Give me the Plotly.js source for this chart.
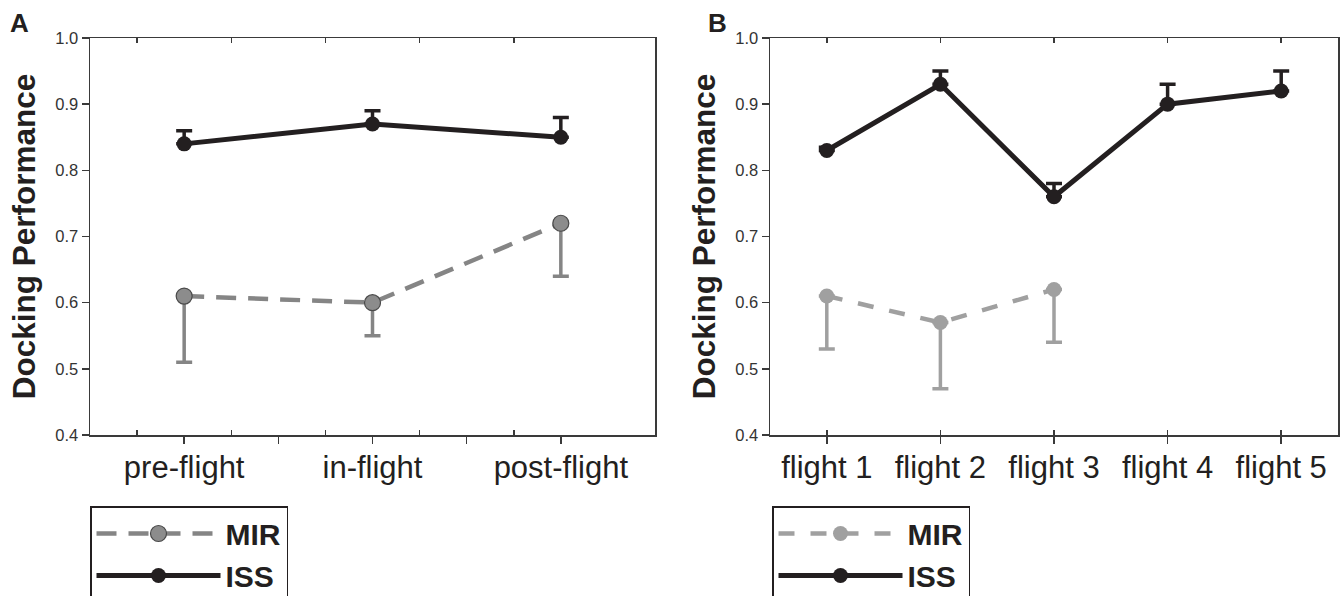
<!DOCTYPE html>
<html>
<head>
<meta charset="utf-8">
<script src="https://cdn.plot.ly/plotly-3.0.1.min.js"></script>
<style>html,body{margin:0;padding:0;background:#fff;}#chart{width:1342px;height:596px;}</style>
</head>
<body>
<div id="chart"></div>
<script>
// Panel A data
const phases = ['pre-flight', 'in-flight', 'post-flight'];
const mirA = [0.61, 0.60, 0.72];
const mirAErrMinus = [0.10, 0.05, 0.08];
const issA = [0.84, 0.87, 0.85];
const issAErrPlus = [0.02, 0.02, 0.03];

// Panel B data
const flights = ['flight 1', 'flight 2', 'flight 3', 'flight 4', 'flight 5'];
const mirFlights = ['flight 1', 'flight 2', 'flight 3'];
const mirB = [0.61, 0.57, 0.62];
const mirBErrMinus = [0.08, 0.10, 0.08];
const issB = [0.83, 0.93, 0.76, 0.90, 0.92];
const issBErrPlus = [0.005, 0.02, 0.02, 0.03, 0.03];

const yTicks = [0.4, 0.5, 0.6, 0.7, 0.8, 0.9, 1.0];

const FONT = 'Liberation Sans, Arial, sans-serif';
const ISS_COLOR = '#231f20';
const MIR_A = '#858585';
const MIR_B = '#a0a0a0';
const AX = '#3a3a3a';

const zeros = n => new Array(n).fill(0);
const pos = (cats, list) => list.map(c => cats.indexOf(c));

// tick helpers (positions in category units)
function steps(from, to, step) {
  const out = [];
  for (let v = from; v <= to + 1e-9; v += step) out.push(Math.round(v * 1000) / 1000);
  return out;
}

const traces = [
  {
    x: pos(phases, phases), y: mirA, xaxis: 'x3', yaxis: 'y', name: 'MIR', legend: 'legend',
    mode: 'lines+markers', type: 'scatter',
    line: {color: MIR_A, width: 4.5, dash: '20px,12px'},
    marker: {color: '#8c8c8c', size: 16, line: {color: '#4a4a4a', width: 1.2}},
    error_y: {type: 'data', symmetric: false, array: zeros(mirA.length), arrayminus: mirAErrMinus,
              color: MIR_A, thickness: 3.5, width: 8}
  },
  {
    x: pos(phases, phases), y: issA, xaxis: 'x', yaxis: 'y', name: 'ISS', legend: 'legend',
    mode: 'lines+markers', type: 'scatter',
    line: {color: ISS_COLOR, width: 5},
    marker: {color: ISS_COLOR, size: 15},
    error_y: {type: 'data', symmetric: false, array: issAErrPlus, arrayminus: zeros(issA.length),
              color: ISS_COLOR, thickness: 3.5, width: 8}
  },
  {
    x: pos(flights, mirFlights), y: mirB, xaxis: 'x4', yaxis: 'y2', name: 'MIR', legend: 'legend2',
    mode: 'lines+markers', type: 'scatter',
    line: {color: MIR_B, width: 4.5, dash: '16px,16px'},
    marker: {color: MIR_B, size: 15},
    error_y: {type: 'data', symmetric: false, array: zeros(mirB.length), arrayminus: mirBErrMinus,
              color: MIR_B, thickness: 3.5, width: 8}
  },
  {
    x: pos(flights, flights), y: issB, xaxis: 'x2', yaxis: 'y2', name: 'ISS', legend: 'legend2',
    mode: 'lines+markers', type: 'scatter',
    line: {color: ISS_COLOR, width: 5},
    marker: {color: ISS_COLOR, size: 15},
    error_y: {type: 'data', symmetric: false, array: issBErrPlus, arrayminus: zeros(issB.length),
              color: ISS_COLOR, thickness: 3.5, width: 8}
  }
];

const W = 1342, H = 596;
const domA = [90 / W, 655 / W];
const domB = [770 / W, 1338 / W];
const domY = [(H - 435) / H, (H - 38) / H];

// bottom axis: labelled categories, outside major ticks every `major`, inside minor ticks between
function bottomAxis(domain, cats, anchor, major) {
  const n = cats.length;
  const vals = steps(0, n - 1, major);
  const text = vals.map(v => (Number.isInteger(v) ? cats[v] : ''));
  return {
    domain: domain, anchor: anchor, type: 'linear',
    range: [-0.5, n - 0.5], autorange: false,
    tickmode: 'array', tickvals: vals, ticktext: text,
    ticks: 'outside', ticklen: 7, tickwidth: 1.5, tickcolor: AX,
    minor: {ticks: 'inside', tickmode: 'array', tickvals: steps(-0.5 + major / 2, n - 1, major),
            ticklen: 5, tickwidth: 1.5, tickcolor: AX},
    showline: true, mirror: true, linecolor: AX, linewidth: 1.5,
    showgrid: false, zeroline: false,
    tickfont: {family: FONT, size: 31, color: '#231f20'},
    ticklabelstandoff: -3, automargin: false, fixedrange: true
  };
}
// top axis: inside ticks only, same scale as the bottom one
function topAxis(base, anchor, n, major) {
  return {
    overlaying: base, anchor: anchor, side: 'top', type: 'linear',
    range: [-0.5, n - 0.5], autorange: false,
    tickmode: 'array', tickvals: steps(-0.5 + major / 2, n - 1, major),
    ticks: 'inside', ticklen: 5, tickwidth: 1.5, tickcolor: AX,
    showticklabels: false, showline: false, showgrid: false, zeroline: false,
    automargin: false, fixedrange: true
  };
}
function valAxis(anchor) {
  return {
    domain: domY, anchor: anchor, range: [0.4, 1.0], autorange: false,
    tickmode: 'array', tickvals: yTicks, tickformat: '.1f',
    ticks: 'outside', ticklen: 7, tickwidth: 1.5, tickcolor: AX,
    showline: true, mirror: true, linecolor: AX, linewidth: 1.5,
    showgrid: false, zeroline: false,
    tickfont: {family: FONT, size: 16.5, color: '#333'},
    title: {text: 'Docking Performance', font: {family: FONT, size: 31.5, color: '#231f20', weight: 'bold'}, standoff: 10},
    automargin: false, fixedrange: true
  };
}
function legendBox(x) {
  return {
    x: x, xanchor: 'left', y: (H - 506) / H, yanchor: 'top',
    bordercolor: '#231f20', borderwidth: 1.5, bgcolor: '#fff',
    font: {family: FONT, size: 30, color: '#231f20', weight: 'bold'},
    itemwidth: 124, traceorder: 'normal', tracegroupgap: 0, itemclick: false, itemdoubleclick: false
  };
}

const layout = {
  width: W, height: H,
  margin: {l: 0, r: 0, t: 0, b: 0, autoexpand: false},
  paper_bgcolor: '#fff', plot_bgcolor: '#fff',
  showlegend: true,
  xaxis: bottomAxis(domA, phases, 'y', 0.5),
  xaxis3: topAxis('x', 'y', phases.length, 0.5),
  yaxis: valAxis('x'),
  xaxis2: bottomAxis(domB, flights, 'y2', 1),
  xaxis4: topAxis('x2', 'y2', flights.length, 1),
  yaxis2: valAxis('x2'),
  legend: legendBox(90 / W),
  legend2: legendBox(772 / W),
  annotations: [
    {text: 'A', xref: 'paper', yref: 'paper', x: 8 / W, y: (H - 6) / H, xanchor: 'left', yanchor: 'top',
     showarrow: false, font: {family: FONT, size: 26, color: '#231f20', weight: 'bold'}},
    {text: 'B', xref: 'paper', yref: 'paper', x: 706 / W, y: (H - 6) / H, xanchor: 'left', yanchor: 'top',
     showarrow: false, font: {family: FONT, size: 26, color: '#231f20', weight: 'bold'}}
  ]
};

Plotly.newPlot('chart', traces, layout, {staticPlot: true, displayModeBar: false});
</script>
</body>
</html>
